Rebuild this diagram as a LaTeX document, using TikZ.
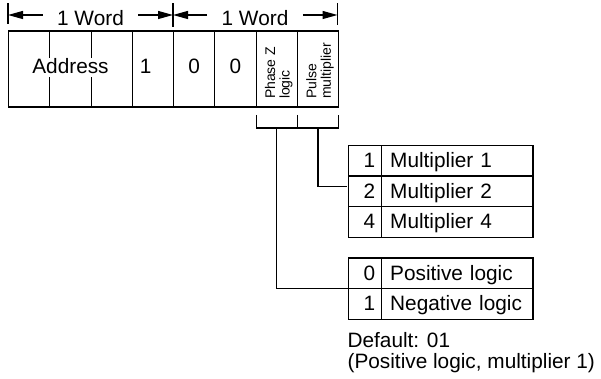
\documentclass[tikz,border=0pt]{standalone}
\usepackage{fontspec}
\setmainfont{Liberation Sans}
\usetikzlibrary{arrows.meta,positioning}

\begin{document}
\begin{tikzpicture}[x=0.5pt,y=-0.5pt,line width=0.6pt,
    font=\fontsize{10.4}{12}\selectfont,
    field/.style={draw,minimum width=20.625pt,minimum height=38pt,inner sep=0pt,
                  outer sep=0pt,text height=4.3pt,text depth=0pt},
    vlabel/.style={rotate=90,anchor=west,align=left,inner sep=0pt,
                   font=\fontsize{7}{7.3}\selectfont},
    word/.style={anchor=base,inner xsep=7pt},
    dimarrow/.style={-{Triangle[length=7.5pt,width=4pt]}},
    code/.style={draw,minimum width=16.5pt,minimum height=15.33pt,outer sep=0pt,
                 inner xsep=3.2pt,text width=10.1pt,align=right,
                 text height=7.4pt,text depth=0.6pt},
    desc/.style={draw,minimum width=75.65pt,minimum height=15.33pt,outer sep=0pt,
                 inner xsep=4.25pt,text width=67.15pt,align=left,
                 text height=7.4pt,text depth=0.6pt}]
  \useasboundingbox (0,0) rectangle (601,379);

  % the two words
  \node[field,minimum width=61.875pt] (addr) at (70.5,69) {Address};
  \node[field,right=0pt of addr,align=left,text width=13pt] (b1) {1};
  \node[field,right=0pt of b1] (b2) {0};
  \node[field,right=0pt of b2] (b3) {0};
  \node[field,right=0pt of b3] (pz) {};
  \node[field,right=0pt of pz] (pm) {};
  \foreach \i in {1,2}
    \draw ([xshift=\i*20.625pt]addr.north west) -- ++(0pt,-13.5pt)
          ([xshift=\i*20.625pt]addr.south west) -- ++(0pt,15pt);
  \node[vlabel] (pzl) at ([xshift=1pt,yshift=3.7pt]pz.south) {Phase Z\\logic};
  \node[vlabel] (pml) at ([xshift=1pt,yshift=3.7pt]pm.south) {Pulse\\multiplier};

  % word widths
  \coordinate (t0) at (8,15);
  \coordinate (t1) at (173,15);
  \coordinate (t2) at (337.5,15);
  \draw (8,3.5) -- (8,24) (173,3.5) -- (173,27) (337.5,3.5) -- (337.5,25);
  \node[word] (w1) at (90.5,26) {1 Word};
  \node[word] (w2) at (255,26) {1 Word};
  \draw[dimarrow] (w1.west |- t0) -- (t0);
  \draw[dimarrow] (w1.east |- t0) -- (t1);
  \draw[dimarrow] (w2.west |- t0) -- (t1);
  \draw[dimarrow] (w2.east |- t0) -- (t2);

  % bracket under the two digits
  \draw ([yshift=-4pt]pz.south west) |- ([yshift=-10.5pt]pm.south east)
        -- ([yshift=-4pt]pm.south east);
  \draw ([yshift=-4pt]pz.south east) -- ([yshift=-10.5pt]pz.south east);
  \coordinate (bz) at ([yshift=-10.5pt]pz.south);
  \coordinate (bm) at ([yshift=-10.5pt]pm.south);

  % multiplier table
  \node[code] (m1) at (365.2,160.7) {1};
  \node[desc,right=0pt of m1] (d1) {Multiplier 1};
  \node[code,below=0pt of m1] (m2) {2};
  \node[desc,right=0pt of m2] (d2) {Multiplier 2};
  \node[code,below=0pt of m2] (m4) {4};
  \node[desc,right=0pt of m4] (d4) {Multiplier 4};

  % logic table
  \node[code] (n0) at (365.2,273.3) {0};
  \node[desc,right=0pt of n0] (l0) {Positive logic};
  \node[code,below=0pt of n0] (n1) {1};
  \node[desc,right=0pt of n1] (l1) {Negative logic};

  \draw[shorten >=1pt] (bm) |- ([yshift=2.6pt]m2.west);
  \draw (bz) |- (n0.south west);

  \node[anchor=north west,align=left,inner sep=0pt,
        font=\fontsize{10.4}{10.4}\selectfont] (dflt) at (347,332)
        {Default: 01\\(Positive logic, multiplier 1)};
\end{tikzpicture}
\end{document}
